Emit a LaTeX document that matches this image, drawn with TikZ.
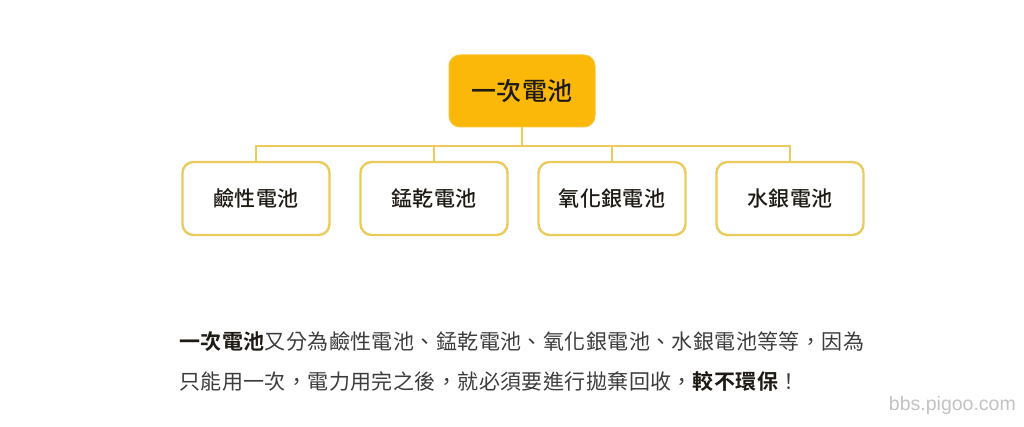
\documentclass[tikz,border=0pt]{standalone}
\usepackage{fontspec}
\setmainfont{Noto Sans CJK TC}[BoldFont={* Bold}]
\setsansfont{Liberation Sans}
\newfontfamily\tcbody{Noto Sans CJK TC}[LetterSpace=2,BoldFont={* Bold}]
\newfontfamily\tclab{Noto Sans CJK TC Medium}[LetterSpace=1.5]
\newcommand{\fwcomma}{\char"FF0C\relax}
\newcommand{\fwbang}{\char"FF01\relax}
\definecolor{rootfill}{HTML}{FBB809}
\definecolor{linegold}{HTML}{EBCB5C}
\definecolor{bodygray}{HTML}{3C3C3C}
\definecolor{inkdark}{HTML}{1E1A14}
\definecolor{markgray}{HTML}{C2C2C2}
\tikzset{
  rootbox/.style={rectangle,rounded corners=11pt,fill=rootfill,draw=rootfill!85!white,line width=1pt,minimum width=146pt,minimum height=72pt,inner sep=0pt,text=inkdark,font=\tclab\fontsize{25}{29}\selectfont},
  childbox/.style={rectangle,rounded corners=11pt,fill=white,draw=linegold,line width=2.4pt,minimum width=147pt,minimum height=73pt,inner sep=0pt,text=inkdark,font=\tclab\fontsize{21}{25}\selectfont},
  link/.style={draw=linegold,line width=2pt},
  bodyline/.style={anchor=west,inner sep=0pt,text=bodygray,font=\tcbody\fontsize{21}{25}\selectfont},
}
\begin{document}
\begin{tikzpicture}[x=1pt,y=-1pt]
\useasboundingbox (0,0) rectangle (1024,427);
\node[rootbox] (root) at (522,91) {一次電池};
\node[childbox] (c1) at (256,198.5) {鹼性電池};
\node[childbox] (c2) at (434,198.5) {錳乾電池};
\node[childbox] (c3) at (612,198.5) {氧化銀電池};
\node[childbox] (c4) at (790,198.5) {水銀電池};
\coordinate (bus) at (522,146);
\draw[link] (root.south) -- (bus);
\draw[link] (c1.north) |- (bus);
\draw[link] (c4.north) |- (bus);
\draw[link] (c2.north) -- (c2.north |- bus);
\draw[link] (c3.north) -- (c3.north |- bus);
\node[bodyline] (l1) at (179,342) {\textcolor{inkdark}{\textbf{一次電池}}又分為鹼性電池、錳乾電池、氧化銀電池、水銀電池等等\fwcomma 因為};
\node[bodyline] (l2) at (179,381) {只能用一次\fwcomma 電力用完之後\fwcomma 就必須要進行拋棄回收\fwcomma\textcolor{inkdark}{\textbf{較不環保}}\fwbang};
\node[anchor=east,inner sep=0pt,text=markgray,font=\sffamily\fontsize{19.5}{22}\selectfont] (mark) at (1016,405) {bbs.pigoo.com};
\end{tikzpicture}
\end{document}
